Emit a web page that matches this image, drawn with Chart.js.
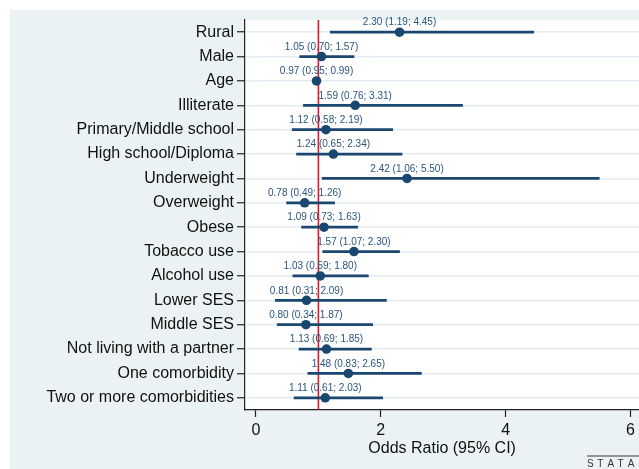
<!DOCTYPE html>
<html>
<head>
<meta charset="utf-8">
<script src="https://cdn.jsdelivr.net/npm/chart.js@4/dist/chart.umd.min.js"></script>
<style>
  html, body { margin: 0; padding: 0; background: #ffffff; overflow: hidden; }
  #wrap { width: 639px; height: 469px; overflow: hidden; }
</style>
</head>
<body>
<div id="wrap"><canvas id="c" width="644" height="469"></canvas></div>
<script>
const categories = [
  "Rural", "Male", "Age", "Illiterate", "Primary/Middle school", "High school/Diploma",
  "Underweight", "Overweight", "Obese", "Tobacco use", "Alcohol use", "Lower SES",
  "Middle SES", "Not living with a partner", "One comorbidity", "Two or more comorbidities"
];
const oddsRatio = [2.30, 1.05, 0.97, 1.59, 1.12, 1.24, 2.42, 0.78, 1.09, 1.57, 1.03, 0.81, 0.80, 1.13, 1.48, 1.11];
const ciLower   = [1.19, 0.70, 0.95, 0.76, 0.58, 0.65, 1.06, 0.49, 0.73, 1.07, 0.59, 0.31, 0.34, 0.69, 0.83, 0.61];
const ciUpper   = [4.45, 1.57, 0.99, 3.31, 2.19, 2.34, 5.50, 1.26, 1.63, 2.30, 1.80, 2.09, 1.87, 1.85, 2.65, 2.03];
const xTicks = [0, 2, 4, 6];
const referenceValue = 1;
const xTitle = "Odds Ratio (95% CI)";

const NAVY = "#1a476f";
const BG = "#eaf2f3";
const FONT = "'Liberation Sans', Arial, sans-serif";

const pointLabels = oddsRatio.map((v, i) =>
  v.toFixed(2) + " (" + ciLower[i].toFixed(2) + "; " + ciUpper[i].toFixed(2) + ")");

const backgroundPlugin = {
  id: "bg",
  beforeDraw(chart) {
    const ctx = chart.ctx;
    const a = chart.chartArea;
    ctx.save();
    ctx.fillStyle = "#ffffff";
    ctx.fillRect(0, 0, chart.width, chart.height);
    ctx.fillStyle = BG;
    ctx.fillRect(10, 10, chart.width - 10, chart.height - 10);
    ctx.fillStyle = "#ffffff";
    ctx.fillRect(a.left, a.top, chart.width - a.left, a.bottom - a.top);
    ctx.restore();
  }
};

const refLinePlugin = {
  id: "refline",
  beforeDatasetsDraw(chart) {
    const ctx = chart.ctx;
    const a = chart.chartArea;
    const x = chart.scales.x.getPixelForValue(referenceValue);
    ctx.save();
    ctx.strokeStyle = "#e0182c";
    ctx.lineWidth = 1.6;
    ctx.beginPath();
    ctx.moveTo(x, a.top);
    ctx.lineTo(x, a.bottom);
    ctx.stroke();
    ctx.restore();
  }
};

const labelPlugin = {
  id: "ptlabels",
  afterDatasetsDraw(chart) {
    const ctx = chart.ctx;
    const meta = chart.getDatasetMeta(1);
    ctx.save();
    ctx.font = "10px " + FONT;
    ctx.fillStyle = "#2a557e";
    ctx.textAlign = "center";
    ctx.textBaseline = "middle";
    meta.data.forEach((pt, i) => {
      ctx.fillText(pointLabels[i], pt.x, pt.y - 9.5);
    });
    // Stata logo
    ctx.fillStyle = "#3a3a3a";
    ctx.fillRect(587, 455.5, 52, 1);
    ctx.font = "10px " + FONT;
    ctx.textAlign = "left";
    ctx.textBaseline = "alphabetic";
    ctx.fillStyle = "#333333";
    const s = "STATA";
    let x = 587;
    for (const ch of s) { ctx.fillText(ch, x, 467); x += 10.2; }
    ctx.restore();
  }
};

new Chart(document.getElementById("c"), {
  type: "bar",
  data: {
    labels: categories,
    datasets: [
      {
        type: "bar",
        indexAxis: "y",
        data: categories.map((c, i) => [ciLower[i], ciUpper[i]]),
        backgroundColor: NAVY,
        borderWidth: 0,
        barThickness: 2,
        grouped: false,
        order: 2
      },
      {
        type: "line",
        indexAxis: "y",
        showLine: false,
        data: categories.map((c, i) => ({ x: oddsRatio[i], y: c })),
        pointRadius: 4.8,
        pointBackgroundColor: NAVY,
        pointBorderColor: NAVY,
        pointBorderWidth: 0,
        order: 1
      }
    ]
  },
  options: {
    indexAxis: "y",
    responsive: false,
    animation: false,
    devicePixelRatio: 1,
    layout: { padding: { top: 20, right: 0, left: 0, bottom: 0 } },
    plugins: { legend: { display: false }, tooltip: { enabled: false } },
    scales: {
      x: {
        type: "linear",
        min: -0.176,
        max: 6.14,
        afterBuildTicks(scale) { scale.ticks = xTicks.map(v => ({ value: v })); },
        afterFit(scale) { scale.height = 59; scale.paddingRight = 0; scale.paddingLeft = 0; },
        grid: { drawOnChartArea: false, drawTicks: true, tickLength: 7, tickColor: "#222", tickWidth: 1.2 },
        border: { display: true, color: "#222", width: 1.2 },
        ticks: { color: "#111", font: { family: FONT, size: 16 }, padding: 4, maxRotation: 0 },
        title: { display: true, text: xTitle, color: "#111", font: { family: FONT, size: 16 }, padding: { top: 0, bottom: 11 } }
      },
      y: {
        type: "category",
        offset: true,
        afterFit(scale) { scale.width = 245; scale.paddingTop = 0; scale.paddingBottom = 0; },
        grid: { offset: false, color: "#e4ecef", lineWidth: 1.5, drawTicks: true, tickLength: 8, tickColor: "#222", tickWidth: 1.2 },
        border: { display: true, color: "#222", width: 1.2 },
        ticks: { color: "#111", font: { family: FONT, size: 16 }, padding: 3, autoSkip: false }
      }
    }
  },
  plugins: [backgroundPlugin, refLinePlugin, labelPlugin]
});
</script>
</body>
</html>
